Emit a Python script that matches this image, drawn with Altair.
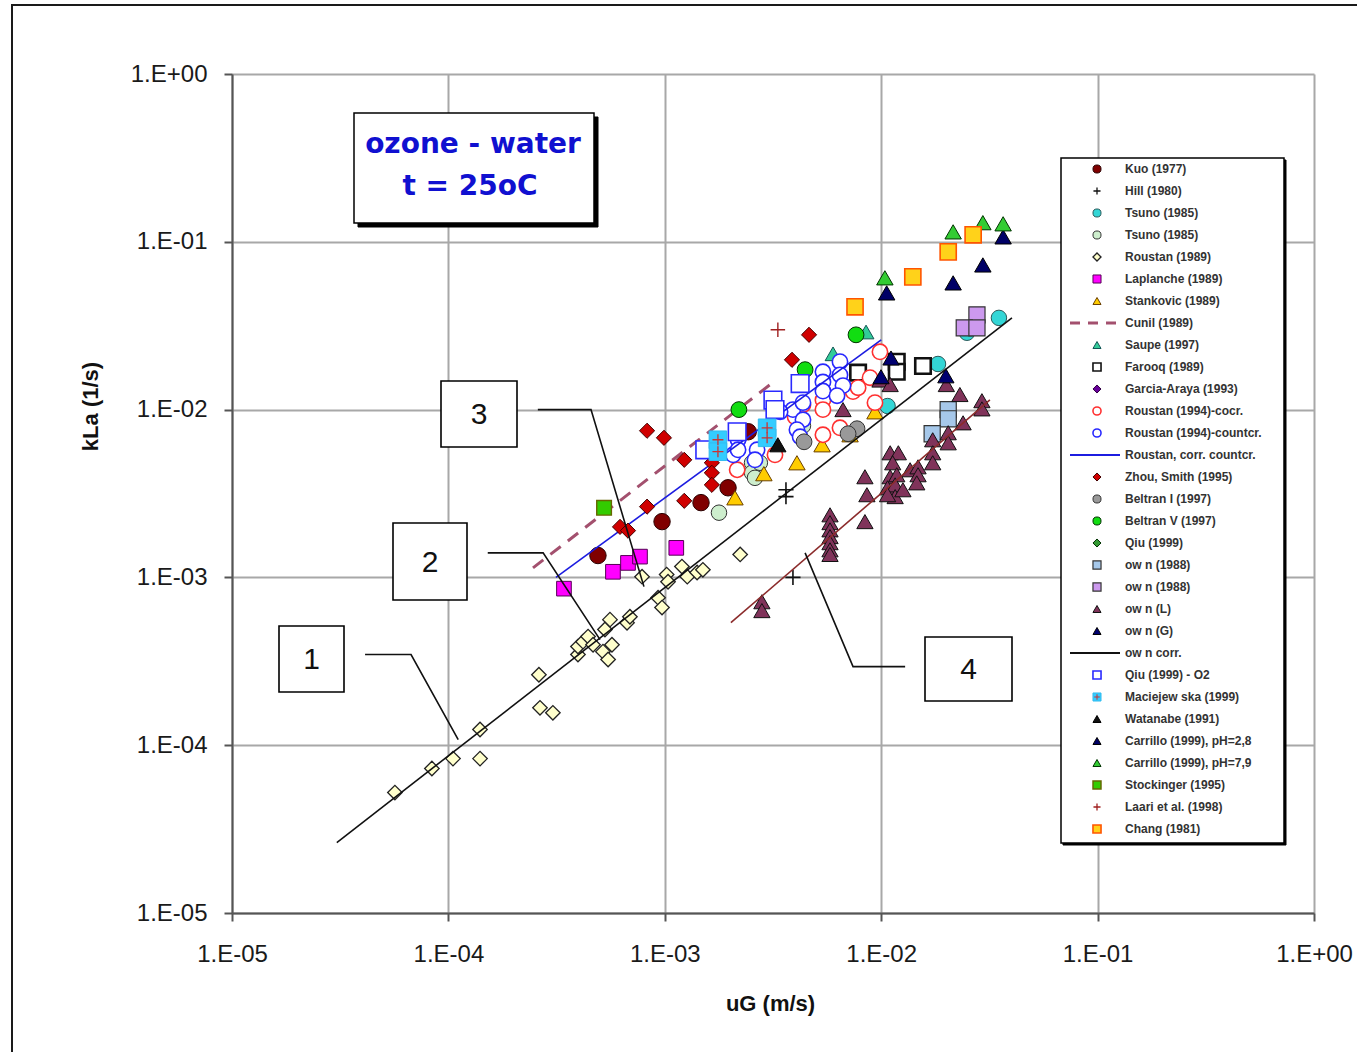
import altair as alt
import pandas as pd

FONT = "Liberation Sans"

# ---------------- data (uG [m/s], kLa [1/s]) ----------------
kuo_x = [4.91e-4, 9.71e-4, 1.47e-3, 1.96e-3, 2.43e-3]
kuo_y = [1.35e-3, 2.15e-3, 2.79e-3, 3.42e-3, 7.38e-3]

hill_x = [3.63e-3, 3.63e-3, 3.91e-3]
hill_y = [3.33e-3, 3.03e-3, 1.00e-3]

tsuno_f_x = [1.07e-2, 1.83e-2, 3.50e-2, 2.49e-2]
tsuno_f_y = [1.05e-2, 1.87e-2, 3.52e-2, 2.87e-2]

tsuno_o_x = [1.78e-3, 2.53e-3, 2.53e-3, 2.75e-3, 2.61e-3, 4.35e-3]
tsuno_o_y = [2.43e-3, 4.82e-3, 4.20e-3, 4.82e-3, 3.92e-3, 8.01e-3]

roustan89_x = [5.66e-5, 8.39e-5, 1.05e-4, 1.40e-4, 1.40e-4, 2.62e-4, 2.65e-4, 3.04e-4,
               3.97e-4, 3.97e-4, 4.19e-4, 4.42e-4, 4.66e-4, 5.18e-4, 5.47e-4, 5.58e-4,
               5.70e-4, 5.29e-4, 6.69e-4, 6.90e-4, 7.85e-4, 9.31e-4, 9.71e-4, 1.02e-3,
               1.035e-3, 1.20e-3, 1.27e-3, 1.41e-3, 1.50e-3, 2.23e-3]
roustan89_y = [5.22e-5, 7.26e-5, 8.32e-5, 1.24e-4, 8.32e-5, 2.63e-4, 1.67e-4, 1.56e-4,
               3.47e-4, 3.87e-4, 4.14e-4, 4.44e-4, 3.97e-4, 3.61e-4, 3.24e-4, 5.60e-4,
               3.97e-4, 4.89e-4, 5.37e-4, 5.83e-4, 1.01e-3, 7.57e-4, 6.61e-4, 1.04e-3,
               9.42e-4, 1.16e-3, 1.01e-3, 1.07e-3, 1.11e-3, 1.37e-3]

laplanche_x = [3.42e-4, 5.76e-4, 6.76e-4, 7.68e-4, 1.13e-3]
laplanche_y = [8.57e-4, 1.08e-3, 1.22e-3, 1.33e-3, 1.50e-3]

stankovic_x = [2.11e-3, 2.87e-3, 4.08e-3, 5.33e-3, 9.36e-3, 7.18e-3]
stankovic_y = [2.98e-3, 4.15e-3, 4.82e-3, 6.17e-3, 9.70e-3, 7.08e-3]

cunil_x = [2.46e-4, 3.06e-3]
cunil_y = [1.14e-3, 1.406e-2]

saupe_x = [5.99e-3, 8.51e-3]
saupe_y = [2.15e-2, 2.90e-2]

farooq_x = [7.82e-3, 1.18e-2, 1.18e-2, 1.56e-2]
farooq_y = [1.66e-2, 1.93e-2, 1.68e-2, 1.82e-2]

r94co_x = [2.16e-3, 3.23e-3, 4.00e-3, 4.35e-3, 5.38e-3, 6.45e-3, 8.88e-3, 9.87e-3,
           9.36e-3, 5.38e-3, 5.38e-3, 7.41e-3, 7.82e-3]
r94co_y = [4.38e-3, 5.38e-3, 9.06e-3, 1.07e-2, 7.08e-3, 7.79e-3, 1.55e-2, 2.21e-2,
           1.10e-2, 1.14e-2, 1.00e-2, 1.28e-2, 1.35e-2]

r94cc_x = [2.07e-3, 2.18e-3, 2.18e-3, 2.67e-3, 2.61e-3, 3.91e-3, 4.35e-3, 4.35e-3, 4.08e-3,
           4.22e-3, 5.38e-3, 5.38e-3, 5.38e-3, 6.45e-3, 6.45e-3, 6.66e-3, 6.25e-3, 3.41e-3]
r94cc_y = [5.38e-3, 6.61e-3, 5.76e-3, 5.76e-3, 5.02e-3, 1.00e-2, 1.10e-2, 8.70e-3, 7.59e-3,
           6.89e-3, 1.68e-2, 1.46e-2, 1.29e-2, 1.93e-2, 1.61e-2, 1.39e-2, 1.21e-2, 9.70e-3]

rcorr_x = [3.14e-4, 1.00e-2]
rcorr_y = [1.00e-3, 2.60e-2]

zhou_x = [8.28e-4, 9.91e-4, 1.23e-3, 1.23e-3, 8.28e-4, 6.21e-4, 6.76e-4, 1.65e-3, 1.65e-3,
          1.65e-3, 3.87e-3, 4.64e-3]
zhou_y = [7.48e-3, 6.79e-3, 5.02e-3, 2.86e-3, 2.64e-3, 2.00e-3, 1.90e-3, 4.82e-3, 4.20e-3,
          3.56e-3, 1.98e-2, 2.79e-2]

beltran1_x = [4.40e-3, 7.73e-3, 7.03e-3]
beltran1_y = [6.43e-3, 7.69e-3, 7.18e-3]

beltran5_x = [2.20e-3, 4.45e-3, 7.65e-3]
beltran5_y = [1.00e-2, 1.73e-2, 2.79e-2]

own88a_x = [2.04e-2, 2.04e-2, 1.72e-2]
own88a_y = [1.00e-2, 8.81e-3, 7.18e-3]

own88b_x = [2.77e-2, 2.42e-2, 2.77e-2]
own88b_y = [3.67e-2, 3.07e-2, 3.07e-2]

ownL_x = [5.80e-3, 5.80e-3, 5.80e-3, 5.80e-3, 5.80e-3, 5.80e-3, 5.80e-3,
          8.41e-3, 8.59e-3, 8.41e-3,
          1.10e-2, 1.20e-2, 1.13e-2, 1.10e-2, 1.18e-2, 1.07e-2, 1.16e-2, 1.16e-2, 1.26e-2, 1.07e-2,
          1.36e-2, 1.48e-2, 1.48e-2, 1.46e-2,
          1.73e-2, 1.73e-2, 1.73e-2, 2.04e-2, 2.04e-2, 2.39e-2, 2.31e-2, 2.92e-2, 2.92e-2,
          2.81e-3, 2.81e-3, 9.87e-3, 1.10e-2, 6.66e-3, 2.00e-2]
ownL_y = [2.36e-3, 2.12e-3, 1.92e-3, 1.75e-3, 1.61e-3, 1.46e-3, 1.37e-3,
          3.98e-3, 3.11e-3, 2.15e-3,
          5.53e-3, 5.53e-3, 4.82e-3, 3.98e-3, 4.09e-3, 3.42e-3, 3.56e-3, 3.03e-3, 3.33e-3, 3.11e-3,
          4.38e-3, 4.56e-3, 4.09e-3, 3.66e-3,
          6.61e-3, 5.53e-3, 4.82e-3, 7.28e-3, 6.34e-3, 8.34e-3, 1.23e-2, 1.13e-2, 1.01e-2,
          7.16e-4, 6.34e-4, 1.50e-2, 1.41e-2, 1.00e-2, 1.41e-2]

ownG_x = [1.11e-2, 9.98e-3, 1.99e-2]
ownG_y = [2.03e-2, 1.57e-2, 1.59e-2]

owncorr_x = [3.05e-5, 4.02e-2]
owncorr_y = [2.63e-5, 3.52e-2]

line4_x = [2.02e-3, 3.18e-2]
line4_y = [5.37e-4, 1.143e-2]

qiuo2_x = [1.53e-3, 2.16e-3, 3.16e-3, 3.23e-3, 4.22e-3]
qiuo2_y = [5.76e-3, 7.38e-3, 1.14e-2, 1.00e-2, 1.43e-2]

maciej_x = [1.76e-3, 1.76e-3, 2.97e-3, 2.97e-3]
maciej_y = [6.61e-3, 5.61e-3, 7.79e-3, 6.79e-3]

watanabe_x = [3.33e-3]
watanabe_y = [6.17e-3]

carr28_x = [3.66e-2, 2.95e-2, 2.15e-2, 1.06e-2]
carr28_y = [1.07e-1, 7.28e-2, 5.69e-2, 4.96e-2]

carr79_x = [2.15e-2, 2.95e-2, 3.66e-2, 1.04e-2]
carr79_y = [1.146e-1, 1.30e-1, 1.28e-1, 6.10e-2]

stockinger_x = [5.24e-4]
stockinger_y = [2.60e-3]

laari_x = [3.33e-3]
laari_y = [2.99e-2]

chang_x = [7.57e-3, 1.40e-2, 2.04e-2, 2.66e-2]
chang_y = [4.10e-2, 6.18e-2, 8.71e-2, 1.10e-1]

# callout leader lines (data coordinates)
call1_x = [4.12e-5, 6.72e-5, 1.11e-4]
call1_y = [3.47e-4, 3.47e-4, 1.08e-4]
call2_x = [1.52e-4, 2.74e-4, 5.02e-4]
call2_y = [1.40e-3, 1.40e-3, 4.26e-4]
call3_x = [2.59e-4, 4.56e-4, 8.01e-4]
call3_y = [1.00e-2, 1.00e-2, 8.81e-4]
call4_x = [1.29e-2, 7.41e-3, 4.45e-3]
call4_y = [2.94e-4, 2.94e-4, 1.40e-3]

tick_values = [1e-5, 1e-4, 1e-3, 1e-2, 1e-1, 1]

legend_labels = [
    "Kuo (1977)", "Hill (1980)", "Tsuno (1985)", "Tsuno (1985)", "Roustan (1989)",
    "Laplanche (1989)", "Stankovic (1989)", "Cunil (1989)", "Saupe (1997)", "Farooq (1989)",
    "Garcia-Araya (1993)", "Roustan (1994)-cocr.", "Roustan (1994)-countcr.",
    "Roustan, corr. countcr.", "Zhou, Smith (1995)", "Beltran I (1997)", "Beltran V (1997)",
    "Qiu (1999)", "ow n (1988)", "ow n (1988)", "ow n (L)", "ow n (G)", "ow n corr.",
    "Qiu (1999) - O2", "Maciejew ska (1999)", "Watanabe (1991)", "Carrillo (1999), pH=2,8",
    "Carrillo (1999), pH=7,9", "Stockinger (1995)", "Laari et al. (1998)", "Chang (1981)",
]

# ---------------- styling ----------------
PLUS = "M-1,0L1,0M0,-1L0,1"

# (x, y, shape, size, fill, stroke, strokeWidth)  None fill -> unfilled
points = {
    "kuo": (kuo_x, kuo_y, "circle", 270, "#800000", "#2a0000", 1),
    "hill": (hill_x, hill_y, PLUS, 230, None, "#111111", 1.6),
    "tsuno_f": (tsuno_f_x, tsuno_f_y, "circle", 240, "#33d6d6", "#2a5a5a", 1),
    "tsuno_o": (tsuno_o_x, tsuno_o_y, "circle", 240, "#cdeecd", "#333333", 1),
    "roustan89": (roustan89_x, roustan89_y, "diamond", 210, "#ffffcc", "#222222", 1.3),
    "laplanche": (laplanche_x, laplanche_y, "square", 215, "#ff00ff", "#550055", 1),
    "stankovic": (stankovic_x, stankovic_y, "triangle-up", 270, "#ffcc00", "#6b4000", 1),
    "saupe": (saupe_x, saupe_y, "triangle-up", 250, "#33cc99", "#115555", 1),
    "farooq": (farooq_x, farooq_y, "square", 240, "#ffffff", "#111111", 2.6),
    "r94co": (r94co_x, r94co_y, "circle", 235, "#ffffff", "#ff3030", 1.6),
    "r94cc": (r94cc_x, r94cc_y, "circle", 235, "#ffffff", "#2828ff", 1.6),
    "zhou": (zhou_x, zhou_y, "diamond", 230, "#d00000", "#440000", 1),
    "beltran1": (beltran1_x, beltran1_y, "circle", 250, "#999999", "#333333", 1),
    "beltran5": (beltran5_x, beltran5_y, "circle", 250, "#11dd11", "#003300", 1),
    "own88a": (own88a_x, own88a_y, "square", 260, "#a6c8ea", "#333333", 1.2),
    "own88b": (own88b_x, own88b_y, "square", 260, "#cc99ee", "#333333", 1.2),
    "ownL": (ownL_x, ownL_y, "triangle-up", 265, "#80335a", "#111111", 1),
    "ownG": (ownG_x, ownG_y, "triangle-up", 265, "#000070", "#000000", 1),
    "qiuo2": (qiuo2_x, qiuo2_y, "square", 310, "#ffffff", "#2a2aff", 1.6),
    "maciej": (maciej_x, maciej_y, "square", 310, "#33ccff", "#33bbee", 1),
    "watanabe": (watanabe_x, watanabe_y, "triangle-up", 265, "#111111", "#000000", 1),
    "carr28": (carr28_x, carr28_y, "triangle-up", 270, "#000066", "#000000", 1),
    "carr79": (carr79_x, carr79_y, "triangle-up", 270, "#33cc33", "#003300", 1),
    "stockinger": (stockinger_x, stockinger_y, "square", 215, "#33cc00", "#666600", 1.4),
    "laari": (laari_x, laari_y, PLUS, 210, None, "#a02020", 1.4),
    "chang": (chang_x, chang_y, "square", 260, "#ffd21a", "#ff5500", 1.6),
}
lines = {
    "cunil": (cunil_x, cunil_y, "#a3506e", 3, [13, 9]),
    "rcorr": (rcorr_x, rcorr_y, "#1c1ce0", 1.6, None),
    "owncorr": (owncorr_x, owncorr_y, "#111111", 1.6, None),
    "line4": (line4_x, line4_y, "#8b2b2b", 1.6, None),
}

# legend rows -> series key
legend_keys = ["kuo", "hill", "tsuno_f", "tsuno_o", "roustan89", "laplanche", "stankovic",
               "cunil", "saupe", "farooq", "garcia", "r94co", "r94cc", "rcorr", "zhou",
               "beltran1", "beltran5", "qiu", "own88a", "own88b", "ownL", "ownG", "owncorr",
               "qiuo2", "maciej", "watanabe", "carr28", "carr79", "stockinger", "laari", "chang"]
extra_legend_only = {
    "garcia": ("diamond", "#660099", "#330044", 1),
    "qiu": ("diamond", "#339933", "#003300", 1),
}

# ---------------- scales / axes ----------------
label_expr = ("'1.E' + (round(log(datum.value)/LN10) < 0 ? '-' : '+') + "
              "(abs(round(log(datum.value)/LN10)) < 10 ? '0' : '') + "
              "abs(round(log(datum.value)/LN10))")

axis_common = dict(
    values=tick_values, labelExpr=label_expr, grid=True, gridColor="#a8a8a8", gridWidth=2,
    domainColor="#555555", domainWidth=2, tickColor="#555555", tickWidth=2, tickSize=8,
    labelFont=FONT, labelFontSize=24, labelColor="#1a1a1a", labelOverlap=False,
    labelFlush=False, titleFont=FONT, titleFontSize=22, titleFontWeight="bold",
    titleColor="#111111",
)
xaxis = alt.Axis(title="uG  (m/s)", labelPadding=21, titleX=538, titleY=90,
                 titleAlign="center", titleBaseline="middle", titleAngle=0, **axis_common)
yaxis = alt.Axis(title="kLa  (1/s)", labelPadding=17, titleX=-142, titleY=332,
                 titleAlign="center", titleBaseline="middle", titleAngle=270, **axis_common)

xs = alt.Scale(type="log", domain=[1e-5, 1], nice=False)
ys = alt.Scale(type="log", domain=[1e-5, 1], nice=False)
X = alt.X("x:Q", scale=xs, axis=xaxis)
Y = alt.Y("y:Q", scale=ys, axis=yaxis)

one = pd.DataFrame({"a": [0]})


def df_xy(x, y):
    return pd.DataFrame({"x": x, "y": y, "o": list(range(len(x)))})


def point_layer(key):
    x, y, shape, size, fill, stroke, sw = points[key]
    if fill is None:
        m = alt.Chart(df_xy(x, y)).mark_point(shape=shape, size=size, filled=False,
                                              stroke=stroke, strokeWidth=sw, opacity=1)
    else:
        m = alt.Chart(df_xy(x, y)).mark_point(shape=shape, size=size, filled=True, fill=fill,
                                              stroke=stroke, strokeWidth=sw, opacity=1,
                                              fillOpacity=1)
    ch = m.encode(x=X, y=Y)
    if key == "maciej":
        plus = alt.Chart(df_xy(x, y)).mark_point(shape=PLUS, size=120, filled=False,
                                                 stroke="#cc3333", strokeWidth=1.3,
                                                 opacity=1).encode(x=X, y=Y)
        return [ch, plus]
    return [ch]


def line_layer(key):
    x, y, color, w, dash = lines[key]
    kw = dict(color=color, strokeWidth=w)
    if dash:
        kw["strokeDash"] = dash
    return [alt.Chart(df_xy(x, y)).mark_line(**kw).encode(x=X, y=Y, order="o:Q")]


def rect(x1, x2, y1, y2, fill="#ffffff", stroke="#000000", sw=1.5, fill_op=1.0):
    return alt.Chart(one).mark_rect(fill=fill, fillOpacity=fill_op, stroke=stroke,
                                    strokeWidth=sw).encode(
        x=alt.value(x1), x2=alt.value(x2), y=alt.value(y1), y2=alt.value(y2))


def text(t, x, y, size, color="#000000", weight="normal", font=FONT):
    return alt.Chart(one).mark_text(text=t, font=font, fontSize=size, fontWeight=weight,
                                    color=color, align="center", baseline="middle").encode(
        x=alt.value(x), y=alt.value(y))


main = []
# outer frame of the figure
main.append(rect(-220, 1300, -69, 1200, fill="#ffffff", stroke="#1a1a1a", sw=2, fill_op=0))

# series in legend order (lines included)
for key in legend_keys:
    if key in points:
        main += point_layer(key)
    elif key in lines:
        main += line_layer(key)
    if key == "owncorr":
        main += line_layer("line4")

# callouts
for cx, cy in [(call1_x, call1_y), (call2_x, call2_y), (call3_x, call3_y), (call4_x, call4_y)]:
    main.append(alt.Chart(df_xy(cx, cy)).mark_line(color="#111111", strokeWidth=1.6)
                .encode(x=X, y=Y, order="o:Q"))

# numbered boxes
for lbl, (x1, x2, y1, y2) in zip(["1", "2", "3", "4"],
                                 [(47, 112, 552, 618), (161, 235, 449, 526),
                                  (209, 285, 307, 373), (693, 780, 563, 627)]):
    main.append(rect(x1, x2, y1, y2, sw=1.6))
    main.append(text(lbl, (x1 + x2) / 2, (y1 + y2) / 2 + 1, 30, color="#111111"))

# ozone - water box
main.append(rect(126, 366, 43, 153, fill="#000000", stroke="#000000", sw=1))
main.append(rect(122, 362, 39, 149, sw=1.5))
main.append(text("ozone - water", 241, 71, 28, color="#1010d0", weight="bold",
                 font="DejaVu Sans"))
main.append(text("t = 25oC", 238, 113, 28, color="#1010d0", weight="bold",
                 font="DejaVu Sans"))

main_layer = alt.layer(*main)

# ---------------- legend (own row scale) ----------------
LY = alt.Y("row:Q", scale=alt.Scale(domain=[0, 30], range=[95, 755]), axis=None)
leg = []
leg.append(rect(831, 1054, 86, 771, fill="#000000", stroke="#000000", sw=1))
leg.append(rect(829, 1052, 84, 769, sw=1.5))
for i, key in enumerate(legend_keys):
    rdf = pd.DataFrame({"row": [i]})
    if key in lines:
        x, y, color, w, dash = lines[key]
        kw = dict(color=color, strokeWidth=max(w, 1.8))
        if dash:
            kw["strokeDash"] = [10, 8]
        leg.append(alt.Chart(rdf).mark_rule(**kw).encode(
            x=alt.value(838), x2=alt.value(888), y=LY))
        continue
    if key in points:
        _, _, shape, size, fill, stroke, sw = points[key]
    else:
        shape, fill, stroke, sw = extra_legend_only[key]
    lsize = 65 if shape != PLUS else 50
    if fill is None:
        m = alt.Chart(rdf).mark_point(shape=shape, size=lsize, filled=False, stroke=stroke,
                                      strokeWidth=1.3, opacity=1)
    else:
        m = alt.Chart(rdf).mark_point(shape=shape, size=lsize, filled=True, fill=fill,
                                      stroke=stroke, strokeWidth=min(sw, 1.6), opacity=1)
    leg.append(m.encode(x=alt.value(865), y=LY))
    if key == "maciej":
        leg.append(alt.Chart(rdf).mark_point(shape=PLUS, size=30, filled=False,
                                             stroke="#cc3333", strokeWidth=1,
                                             opacity=1).encode(x=alt.value(865), y=LY))

leg_text = alt.Chart(pd.DataFrame({"row": list(range(len(legend_labels))),
                                   "label": legend_labels})).mark_text(
    align="left", baseline="middle", font=FONT, fontSize=12, fontWeight="bold",
    color="#333333").encode(x=alt.value(893), y=LY, text="label:N")
leg.append(leg_text)
legend_layer = alt.layer(*leg)

chart = alt.layer(main_layer, legend_layer).resolve_scale(y="independent").properties(
    width=1082, height=839,
    padding={"left": 232, "top": 74, "right": 43, "bottom": 139},
    autosize=alt.AutoSizeParams(type="none"),
    background="#ffffff",
).configure_view(strokeWidth=0)

chart.save("out.html", embed_options={"renderer": "svg", "actions": False})
